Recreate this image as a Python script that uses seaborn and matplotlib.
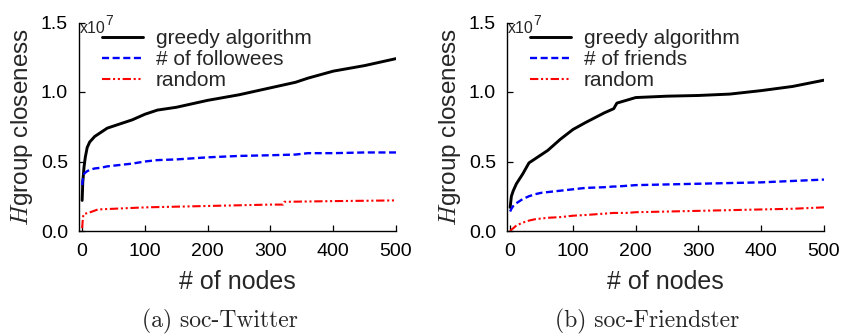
import matplotlib
matplotlib.use("Agg")
import matplotlib.pyplot as plt
import seaborn as sns

# ---- data (values in units of 1e7) ----
tw_x = [0, 1, 3, 5, 8, 12, 20, 30, 40, 60, 80, 100, 120, 150, 200, 250, 300, 340, 360, 400, 450, 500]
tw_greedy = [0.22, 0.35, 0.46, 0.53, 0.60, 0.64, 0.68, 0.71, 0.74, 0.77, 0.80, 0.84, 0.87, 0.89,
             0.94, 0.98, 1.03, 1.07, 1.10, 1.15, 1.19, 1.24]
tw_degree = [0.33, 0.37, 0.41, 0.42, 0.43, 0.44, 0.45, 0.455, 0.465, 0.475, 0.485, 0.50, 0.51, 0.515,
             0.53, 0.54, 0.545, 0.55, 0.56, 0.56, 0.565, 0.565]
tw_rand_x = [0, 1, 2, 5, 10, 25, 50, 100, 150, 200, 250, 300, 320, 322, 400, 500]
tw_random = [0.02, 0.08, 0.12, 0.125, 0.13, 0.155, 0.16, 0.17, 0.175, 0.18, 0.185, 0.19, 0.19, 0.21, 0.215, 0.22]

fr_x = [0, 2, 5, 10, 20, 30, 40, 50, 60, 80, 100, 120, 150, 165, 170, 185, 200, 250, 300, 350, 400, 450, 500]
fr_greedy = [0.17, 0.25, 0.29, 0.34, 0.41, 0.49, 0.52, 0.55, 0.58, 0.66, 0.73, 0.78, 0.85, 0.88, 0.92,
             0.94, 0.96, 0.97, 0.975, 0.985, 1.01, 1.04, 1.085]
fr_degree = [0.14, 0.16, 0.18, 0.20, 0.23, 0.25, 0.265, 0.275, 0.28, 0.29, 0.30, 0.31, 0.315, 0.32, 0.32,
             0.325, 0.33, 0.335, 0.34, 0.345, 0.35, 0.36, 0.37]
fr_random = [0.0, 0.01, 0.02, 0.04, 0.06, 0.075, 0.085, 0.09, 0.095, 0.10, 0.11, 0.115, 0.125, 0.13, 0.13,
             0.13, 0.135, 0.14, 0.145, 0.15, 0.155, 0.16, 0.17]

x_ticks = [0, 100, 200, 300, 400, 500]
y_ticks = [0.0, 0.5, 1.0, 1.5]
y_ticklabels = ["0.0", "0.5", "1.0", "1.5"]
panels = [
    dict(x=tw_x, greedy=tw_greedy, degree=tw_degree, rx=tw_rand_x, rand=tw_random,
         deg_label="# of followees", caption="(a) soc-Twitter"),
    dict(x=fr_x, greedy=fr_greedy, degree=fr_degree, rx=fr_x, rand=fr_random,
         deg_label="# of friends", caption="(b) soc-Friendster"),
]

sns.set_theme(style="white")
plt.rcParams["font.family"] = ["Liberation Sans", "DejaVu Sans"]
plt.rcParams["mathtext.fontset"] = "cm"

W, H = 846, 335
fig = plt.figure(figsize=(W / 100, H / 100), dpi=100)
lefts = [79, 507]
caption_x = [220, 647]
axw = 317
top_px, bot_px = 22.5, 231

for left, cx, p in zip(lefts, caption_x, panels):
    ax = fig.add_axes([left / W, (H - bot_px) / H, axw / W, (bot_px - top_px) / H])
    sns.lineplot(x=p["x"], y=p["greedy"], ax=ax, color="black", lw=2.1,
                 linestyle="-", label="greedy algorithm")
    sns.lineplot(x=p["x"], y=p["degree"], ax=ax, color="#0000ff", lw=1.7,
                 linestyle=(0, (3, 1.5)), label=p["deg_label"])
    sns.lineplot(x=p["rx"], y=p["rand"], ax=ax, color="#ff0000", lw=1.5,
                 linestyle=(0, (4, 1.3, 1, 1.3, 1, 1.3)), label="random")
    ax.set_xlim(-5, 500)
    ax.set_ylim(0, 1.5)
    ax.set_xticks(x_ticks)
    ax.set_yticks(y_ticks)
    ax.set_yticklabels(y_ticklabels)
    for s in ["top", "right"]:
        ax.spines[s].set_visible(False)
    for s in ["left", "bottom"]:
        ax.spines[s].set_color("black")
        ax.spines[s].set_linewidth(1.0)
    ax.tick_params(direction="in", length=4, width=0.9, labelsize=14, color="black",
                   labelcolor="black", left=True, bottom=True)
    ax.tick_params(axis="x", pad=9)
    ax.tick_params(axis="y", pad=8)
    ax.set_xlabel("# of nodes", fontsize=18, labelpad=7)
    ax.set_ylabel("$H$group closeness", fontsize=17.5, labelpad=4)
    ax.grid(False)
    ax.legend(loc="upper left", bbox_to_anchor=(0.072, 0.968), frameon=False,
              fontsize=15, handlelength=2.0, handletextpad=0.6,
              labelspacing=0.1, borderpad=0, borderaxespad=0)
    ax.text(0.004, 0.952, "x10", transform=ax.transAxes, fontsize=11.5,
            va="baseline", ha="left")
    ax.text(0.083, 0.99, "7", transform=ax.transAxes, fontsize=10,
            va="baseline", ha="left")
    fig.text(cx / W, 1 - 321 / H, p["caption"], fontsize=17,
             family="cmr10", ha="center", va="center")

fig.savefig("out.png", dpi=100)
